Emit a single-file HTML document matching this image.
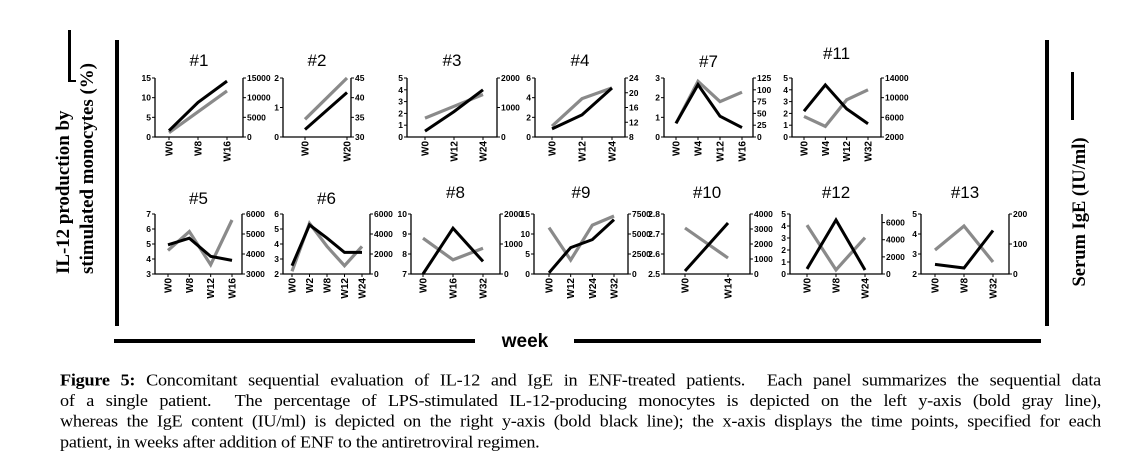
<!DOCTYPE html>
<html><head><meta charset="utf-8">
<style>
body{margin:0;background:#fff;width:1129px;height:469px;overflow:hidden;position:relative}
svg{position:absolute;left:0;top:0}
#cap{position:absolute;left:60px;top:370px;width:1041px;font-family:"Liberation Serif",serif;font-size:18.2px;line-height:23px;color:#000;letter-spacing:-0.25px;transform:scaleY(0.9);transform-origin:0 0}
#cap div{text-align:justify;text-align-last:justify;white-space:nowrap;overflow:visible}
#cap div.last{text-align-last:left}
</style></head><body>
<svg id="fig" width="1129" height="469">
<g>
<rect x="115" y="40" width="4" height="286" fill="#000"/>
<rect x="1045" y="40" width="4" height="286" fill="#000"/>
<rect x="114" y="339" width="361" height="4" fill="#000"/>
<rect x="574" y="339" width="467" height="4" fill="#000"/>
<text x="525" y="347" text-anchor="middle" font-family="Liberation Sans, sans-serif" font-weight="bold" font-size="19">week</text>
<g transform="translate(0,274) rotate(-90)" font-family="Liberation Serif, serif" font-weight="bold" font-size="18.9" text-anchor="start">
<text x="0" y="69">IL-12 production by</text>
<text x="0" y="93">stimulated monocytes (%)</text>
</g>
<rect x="68" y="30" width="3" height="52" fill="#000"/>
<rect x="68" y="80" width="8" height="2" fill="#000"/>
<text transform="translate(1085,212) rotate(-90)" font-family="Liberation Serif, serif" font-weight="bold" font-size="18.5" text-anchor="middle">Serum IgE (IU/ml)</text>
<rect x="1071" y="72" width="3" height="48" fill="#000"/>
</g>
<g id="panels"></g>
</svg>
<div id="cap">
<div><b>Figure 5:</b> Concomitant sequential evaluation of IL-12 and IgE in ENF-treated patients. &nbsp;Each panel summarizes the sequential data</div>
<div>of a single patient. &nbsp;The percentage of LPS-stimulated IL-12-producing monocytes is depicted on the left y-axis (bold gray line),</div>
<div>whereas the IgE content (IU/ml) is depicted on the right y-axis (bold black line); the x-axis displays the time points, specified for each</div>
<div class="last">patient, in weeks after addition of ENF to the antiretroviral regimen.</div>
</div>
<script>
const p1Cats=["W0","W8","W16"], p1Gray=[1.1,6.4,11.7], p1Black=[1600,8800,14200], p1LTicks=[0,5,10,15], p1RTicks=[0,5000,10000,15000];
const p2Cats=["W0","W20"], p2Gray=[0.6,2.0], p2Black=[31.9,41.3], p2LTicks=[0,1,2], p2RTicks=[30,35,40,45];
const p3Cats=["W0","W12","W24"], p3Gray=[1.6,2.6,3.6], p3Black=[200,860,1600], p3LTicks=[0,1,2,3,4,5], p3RTicks=[0,1000,2000];
const p4Cats=["W0","W12","W24"], p4Gray=[1.1,3.9,5.0], p4Black=[10.2,14,21.3], p4LTicks=[0,2,4,6], p4RTicks=[8,12,16,20,24];
const p7Cats=["W0","W4","W12","W16"], p7Gray=[0.69,2.83,1.8,2.28], p7Black=[29,111,44,20], p7LTicks=[0,1,2,3], p7RTicks=[0,25,50,75,100,125];
const p11Cats=["W0","W4","W12","W32"], p11Gray=[1.74,0.9,3.15,4.0], p11Black=[7260,12590,7730,4700], p11LTicks=[0,1,2,3,4,5], p11RTicks=[2000,6000,10000,14000];
const p5Cats=["W0","W8","W12","W16"], p5Gray=[4.57,5.83,3.62,6.6], p5Black=[4460,4790,3880,3680], p5LTicks=[3,4,5,6,7], p5RTicks=[3000,4000,5000,6000];
const p6Cats=["W0","W2","W8","W12","W24"], p6Gray=[2.18,5.38,3.84,2.55,3.84], p6Black=[830,4910,3590,2160,2160], p6LTicks=[2,3,4,5,6], p6RTicks=[0,2000,4000,6000];
const p8Cats=["W0","W16","W32"], p8Gray=[8.79,7.71,8.29], p8Black=[0,1525,420], p8LTicks=[7,8,9,10], p8RTicks=[0,1000,2000];
const p9Cats=["W0","W12","W24","W32"], p9Gray=[11.6,3.5,12.2,14.5], p9Black=[150,3300,4300,6800], p9LTicks=[0,5,10,15], p9RTicks=[0,2500,5000,7500];
const p10Cats=["W0","W14"], p10Gray=[2.73,2.58], p10Black=[200,3400], p10LTicks=[2.5,2.6,2.7,2.8], p10RTicks=[0,1000,2000,3000,4000];
const p12Cats=["W0","W8","W24"], p12Gray=[4.07,0.34,3.03], p12Black=[590,6300,470], p12LTicks=[0,1,2,3,4,5], p12RTicks=[0,2000,4000,6000];
const p13Cats=["W0","W8","W32"], p13Gray=[3.2,4.4,2.6], p13Black=[32,20,145], p13LTicks=[2,3,4,5], p13RTicks=[0,100,200];

const T1=78,B1=137,T2=214,B2=274;
const panels=[
 {id:"1",c:p1Cats,g:p1Gray,b:p1Black,lt:p1LTicks,rt:p1RTicks,L:155,R:243,x0:169,x1:227,T:T1,B:B1,ty:66},
 {id:"2",c:p2Cats,g:p2Gray,b:p2Black,lt:p2LTicks,rt:p2RTicks,L:283,R:351,x0:305,x1:347,T:T1,B:B1,ty:66},
 {id:"3",c:p3Cats,g:p3Gray,b:p3Black,lt:p3LTicks,rt:p3RTicks,L:407,R:497,x0:425,x1:483,T:T1,B:B1,ty:66},
 {id:"4",c:p4Cats,g:p4Gray,b:p4Black,lt:p4LTicks,rt:p4RTicks,L:535,R:625,x0:552,x1:612,T:T1,B:B1,ty:66},
 {id:"7",c:p7Cats,g:p7Gray,b:p7Black,lt:p7LTicks,rt:p7RTicks,L:664,R:753,x0:676,x1:742,T:T1,B:B1,ty:67},
 {id:"11",c:p11Cats,g:p11Gray,b:p11Black,lt:p11LTicks,rt:p11RTicks,L:792,R:881,x0:804,x1:868,T:T1,B:B1,ty:59},
 {id:"5",c:p5Cats,g:p5Gray,b:p5Black,lt:p5LTicks,rt:p5RTicks,L:155,R:242,x0:168,x1:232,T:T2,B:B2,ty:204},
 {id:"6",c:p6Cats,g:p6Gray,b:p6Black,lt:p6LTicks,rt:p6RTicks,L:283,R:370,x0:292,x1:362,T:T2,B:B2,ty:204},
 {id:"8",c:p8Cats,g:p8Gray,b:p8Black,lt:p8LTicks,rt:p8RTicks,L:411,R:500,x0:423,x1:483,T:T2,B:B2,ty:198},
 {id:"9",c:p9Cats,g:p9Gray,b:p9Black,lt:p9LTicks,rt:p9RTicks,L:534,R:628,x0:549,x1:614,T:T2,B:B2,ty:198},
 {id:"10",c:p10Cats,g:p10Gray,b:p10Black,lt:p10LTicks,rt:p10RTicks,L:664,R:750,x0:685,x1:728,T:T2,B:B2,ty:198},
 {id:"12",c:p12Cats,g:p12Gray,b:p12Black,lt:p12LTicks,rt:p12RTicks,L:790,R:882,x0:807,x1:865,T:T2,B:B2,ty:198,rmax:7000},
 {id:"13",c:p13Cats,g:p13Gray,b:p13Black,lt:p13LTicks,rt:p13RTicks,L:921,R:1009,x0:935,x1:993,T:T2,B:B2,ty:198}
];
const NS="http://www.w3.org/2000/svg";
const root=document.getElementById("panels");
function mk(tag,attrs,parent){const e=document.createElementNS(NS,tag);for(const k in attrs)e.setAttribute(k,attrs[k]);parent.appendChild(e);return e;}
panels.forEach(p=>{
 const g=mk("g",{},root);
 
 
 const lmin=p.lt[0],lmax=p.lt[p.lt.length-1];
 const rmin=p.rt[0],rmax=p.rmax||p.rt[p.rt.length-1];
 const yl=v=>p.B-(v-lmin)/(lmax-lmin)*(p.B-p.T);
 const yr=v=>p.B-(v-rmin)/(rmax-rmin)*(p.B-p.T);
 const n=p.c.length;
 const xs=i=>n===1?p.x0:p.x0+i*(p.x1-p.x0)/(n-1);
 const t=mk("text",{x:(p.L+p.R)/2,y:p.ty,"text-anchor":"middle","font-family":"Liberation Sans, sans-serif","font-size":"17"},g);
 t.textContent="#"+p.id;
 
 
 const ax=mk("path",{d:`M${p.L},${p.T}V${p.B}H${p.R}V${p.T}`,fill:"none",stroke:"#000","stroke-width":"1.3"},g);
 
 
 p.lt.forEach(v=>{
  const y=yl(v);
  mk("line",{x1:p.L-3,x2:p.L,y1:y,y2:y,stroke:"#000","stroke-width":"1"},g);
  const tx=mk("text",{x:p.L-4,y:y+3,"text-anchor":"end","font-family":"Liberation Sans, sans-serif","font-size":"8.5","font-weight":"bold"},g);
  tx.textContent=v;
  
  
 });
 p.rt.forEach(v=>{
  const y=yr(v);
  mk("line",{x1:p.R,x2:p.R+3,y1:y,y2:y,stroke:"#000","stroke-width":"1"},g);
  const tx=mk("text",{x:p.R+4,y:y+3,"text-anchor":"start","font-family":"Liberation Sans, sans-serif","font-size":"8.5","font-weight":"bold"},g);
  tx.textContent=v;
  
  
 });
 p.c.forEach((c,i)=>{
  const x=xs(i);
  mk("line",{x1:x,x2:x,y1:p.B,y2:p.B+3,stroke:"#000","stroke-width":"1"},g);
  const tx=mk("text",{transform:`translate(${x+3.5},${p.B+4}) rotate(-90)`,"text-anchor":"end","font-family":"Liberation Sans, sans-serif","font-size":"10","font-weight":"bold"},g);
  tx.textContent=c;
  
  
 });
 const gl=mk("polyline",{points:p.g.map((v,i)=>xs(i)+","+yl(v)).join(" "),fill:"none",stroke:"#8a8a8a","stroke-width":"3.2","stroke-linejoin":"miter"},g);
 
 
 const bl=mk("polyline",{points:p.b.map((v,i)=>xs(i)+","+yr(v)).join(" "),fill:"none",stroke:"#000","stroke-width":"3","stroke-linejoin":"miter"},g);
 
 
});
</script>
</body></html>
